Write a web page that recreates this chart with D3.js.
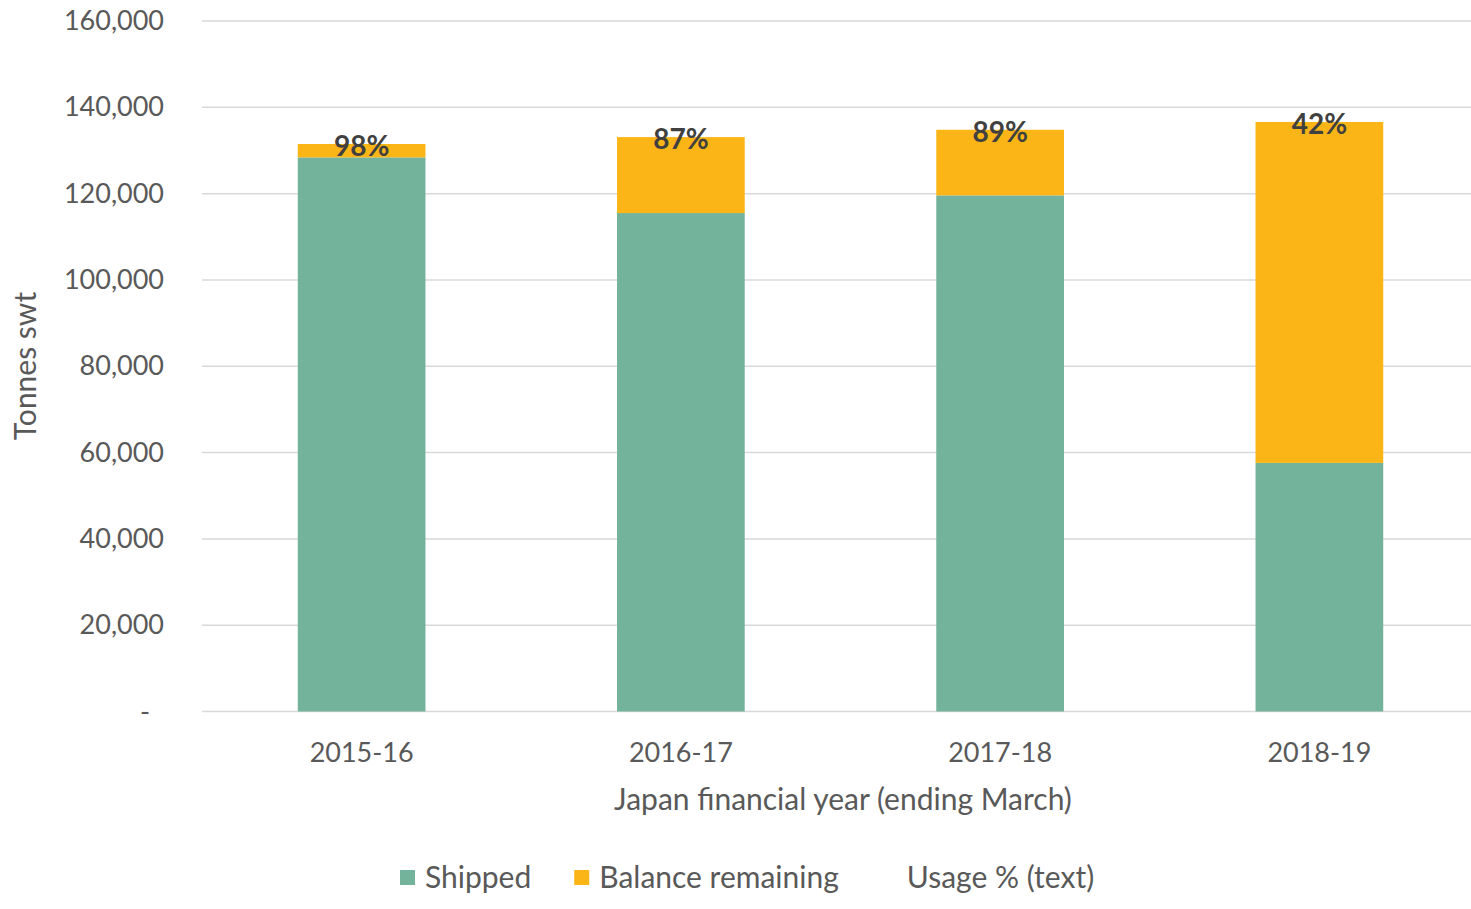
<!DOCTYPE html>
<meta charset="utf-8">
<html>
<head>
  <title>Shipped vs balance remaining</title>
  <script src="https://d3js.org/d3.v7.min.js"></script>
  <style>
    body { margin: 0; background: #fff; }
    text { font-family: Lato, "Open Sans", sans-serif; }
  </style>
</head>
<body>
  <div id="chart"></div>
<script>
  // data
  var years = ["2015-16", "2016-17", "2017-18", "2018-19"];
  var shipped = [128400, 115500, 119600, 57600];
  var balance = [3100, 17600, 15200, 79000];
  var usageLabels = ["98%", "87%", "89%", "42%"];
  var yTicks = [0, 20000, 40000, 60000, 80000, 100000, 120000, 140000, 160000];
  var legendNames = ["Shipped", "Balance remaining", "Usage % (text)"];

  var colors = { shipped: "#73b39b", balance: "#fbb516" };

  var W = 1471, H = 909;
  var plotLeft = 202, plotRight = 1479, plotTop = 21, plotBottom = 711.5;

  var svg = d3.select("#chart").append("svg")
    .attr("width", W)
    .attr("height", H);

  var rows = years.map(function (d, i) {
    return { year: d, shipped: shipped[i], balance: balance[i], label: usageLabels[i] };
  });

  var x = d3.scaleBand()
    .domain(years)
    .range([plotLeft, plotRight])
    .paddingInner(0.6)
    .paddingOuter(0.3);

  var y = d3.scaleLinear()
    .domain([0, 160000])
    .range([plotBottom, plotTop]);

  // grid lines
  svg.append("g")
    .selectAll("line")
    .data(yTicks)
    .enter().append("line")
    .attr("x1", plotLeft)
    .attr("x2", W)
    .attr("y1", function (d) { return y(d); })
    .attr("y2", function (d) { return y(d); })
    .attr("stroke", "#d9d9d9")
    .attr("stroke-width", 1.5);

  // y axis labels
  var yAxis = svg.append("g")
    .attr("transform", "translate(" + (plotLeft - 38) + ",0)")
    .call(d3.axisLeft(y).tickValues(yTicks).tickSize(0)
      .tickFormat(function (d) { return d === 0 ? "-" : d3.format(",")(d); }));
  yAxis.select(".domain").remove();
  yAxis.selectAll("text")
    .attr("fill", "#595959")
    .style("font-size", "27px")
    .attr("x", function (d) { return d === 0 ? -14 : 0; });

  // stacked bars
  var stack = d3.stack().keys(["shipped", "balance"])(rows);
  svg.append("g")
    .selectAll("g")
    .data(stack)
    .enter().append("g")
    .attr("fill", function (d) { return colors[d.key]; })
    .selectAll("rect")
    .data(function (d) { return d; })
    .enter().append("rect")
    .attr("x", function (d) { return x(d.data.year); })
    .attr("y", function (d) { return y(d[1]); })
    .attr("width", x.bandwidth())
    .attr("height", function (d) { return y(d[0]) - y(d[1]); });

  // usage labels
  svg.append("g")
    .selectAll("text")
    .data(rows)
    .enter().append("text")
    .attr("x", function (d) { return x(d.year) + x.bandwidth() / 2; })
    .attr("y", function (d) { return y(d.shipped + d.balance) + 12; })
    .attr("text-anchor", "middle")
    .attr("fill", "#404040")
    .style("font-size", "28px")
    .style("font-weight", "bold")
    .text(function (d) { return d.label; });

  // x axis
  var xAxis = svg.append("g")
    .attr("transform", "translate(0," + plotBottom + ")")
    .call(d3.axisBottom(x).tickSize(0).tickPadding(31));
  xAxis.select(".domain").remove();
  xAxis.selectAll("text")
    .attr("fill", "#595959")
    .style("font-size", "27px");

  svg.append("text")
    .attr("x", 843)
    .attr("y", 810)
    .attr("text-anchor", "middle")
    .attr("fill", "#595959")
    .style("font-size", "30px")
    .text("Japan financial year (ending March)");

  svg.append("text")
    .attr("transform", "translate(36,366)rotate(-90)")
    .attr("text-anchor", "middle")
    .attr("fill", "#595959")
    .style("font-size", "30px")
    .text("Tonnes swt");

  // legend
  var legendColors = [colors.shipped, colors.balance, "none"];
  var legend = svg.append("g");
  var lx = 400;
  legendNames.forEach(function (name, i) {
    var item = legend.append("g").attr("transform", "translate(" + lx + ",878)");
    item.append("rect")
      .attr("x", 0).attr("y", -8)
      .attr("width", 15).attr("height", 15)
      .attr("fill", legendColors[i]);
    var t = item.append("text")
      .attr("x", 25)
      .attr("y", 10)
      .attr("fill", "#595959")
      .style("font-size", "30px")
      .text(name);
    lx += 25 + t.node().getComputedTextLength() + 43;
  });
</script>
</body>
</html>
